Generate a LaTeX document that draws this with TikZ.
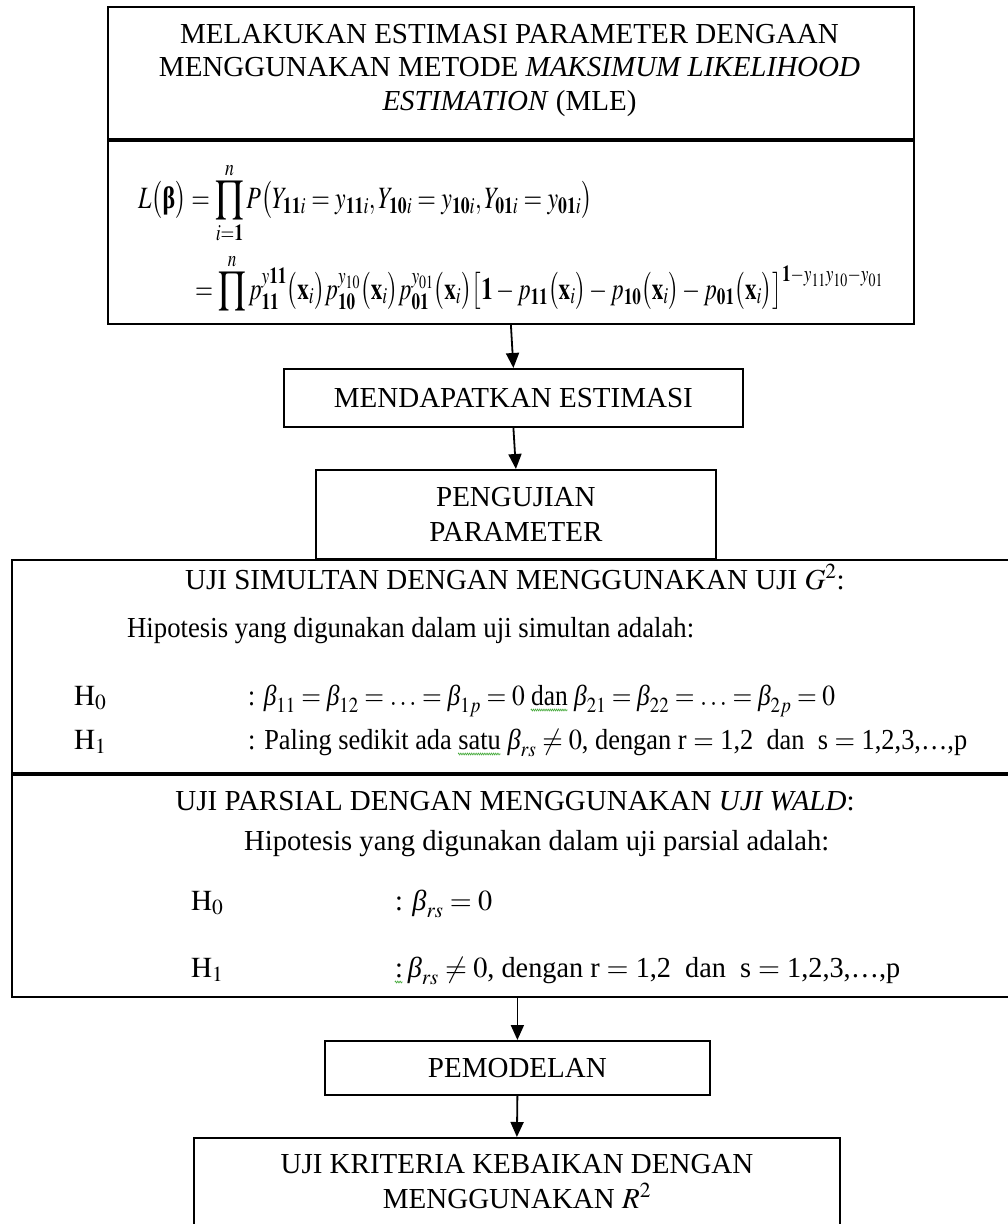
\documentclass[tikz,border=0pt]{standalone}
\usepackage{mathptmx}
\usepackage{fontspec}
\setmainfont{Liberation Serif}
\usepackage{graphicx}
\usetikzlibrary{arrows.meta,decorations.pathmorphing}
\definecolor{wavegreen}{RGB}{70,170,60}
\newcommand\fs{\fontsize{29}{34}\selectfont}
\newcommand\fsm{\fontsize{31}{36}\selectfont}
\newcommand\bt{\mbox{\itshape β}}
\newcommand\bbeta{\mbox{\bfseries β}}
\newsavebox\wavebox
\newcommand\gwave[1]{\savebox\wavebox{#1}\usebox\wavebox\llap{\tikz[baseline=0pt]\draw[wavegreen,line width=0.7pt,decorate,decoration={zigzag,amplitude=0.9pt,segment length=2.4pt}] (0pt,-5pt) -- (\wd\wavebox,-5pt);}}
\begin{document}
\begin{tikzpicture}[x=1pt,y=-1pt,
  box/.style={draw, line width=1.8pt, inner sep=0pt, anchor=north west},
  txt/.style={inner sep=0pt, font=\fs},
  mtxt/.style={inner sep=0pt, font=\fsm},
  arr/.style={line width=1.8pt, -{Triangle[length=15pt,width=13pt]}},
  divider/.style={line width=3.6pt}]
\useasboundingbox (0,0) rectangle (1008,1224);
\clip (0,0) rectangle (1008,1224);
% top box
\node[box, minimum width=806pt, minimum height=132pt] (mlehead) at (107,6) {};
\node[box, minimum width=806pt, minimum height=185pt] (mlebody) at (107,138) {};
\draw[divider] (mlehead.south west) -- (mlehead.south east);
\node[txt, anchor=base] (t1) at (509.5,43) {MELAKUKAN ESTIMASI PARAMETER DENGAAN};
\node[txt, anchor=base] (t2) at (509.5,76.5) {MENGGUNAKAN METODE \textit{MAKSIMUM LIKELIHOOD}};
\node[txt, anchor=base] (t3) at (509.5,110) {\textit{ESTIMATION} (MLE)};
\node[mtxt, anchor=base west] (f1) at (138,208) {\resizebox{454pt}{\height}{$\displaystyle L\bigl(\bbeta\bigr) = \prod_{i=\mathbf{1}}^{n} P\bigl(Y_{\mathbf{11}i} = y_{\mathbf{11}i}, Y_{\mathbf{10}i} = y_{\mathbf{10}i}, Y_{\mathbf{01}i} = y_{\mathbf{01}i}\bigr)$}};
\node[mtxt, anchor=base west] (f2) at (195,299) {\resizebox{688pt}{\height}{$\displaystyle = \prod^{n} p_{\mathbf{11}}^{y\mathbf{11}}\bigl(\mathbf{x}_i\bigr)p_{\mathbf{10}}^{y_{10}}\bigl(\mathbf{x}_i\bigr)p_{\mathbf{01}}^{y_{01}}\bigl(\mathbf{x}_i\bigr)\bigl[\mathbf{1} - p_{\mathbf{11}}\bigl(\mathbf{x}_i\bigr) - p_{\mathbf{10}}\bigl(\mathbf{x}_i\bigr) - p_{\mathbf{01}}\bigl(\mathbf{x}_i\bigr)\bigr]^{\mathbf{1}-y_{11}y_{10}-y_{01}}$}};
% middle boxes
\node[box, minimum width=459pt, minimum height=58pt, font=\fs] (mend) at (283,368) {MENDAPATKAN ESTIMASI};
\node[box, minimum width=400pt, minimum height=89pt, font=\fs, align=center] (peng) at (315,469) {PENGUJIAN\\[1pt]PARAMETER};
% big box
\node[box, minimum width=1010pt, minimum height=213pt] (sim) at (11,559) {};
\node[box, minimum width=1010pt, minimum height=224pt] (par) at (11,772) {};
\draw[divider] (sim.south west) -- (sim.south east);
\node[txt, anchor=base] (st) at (515,589) {UJI SIMULTAN DENGAN MENGGUNAKAN UJI $G^2$:};
\node[txt, anchor=base west] (sh) at (127,637) {\resizebox{567pt}{\height}{Hipotesis yang digunakan dalam uji simultan adalah:}};
\node[txt, anchor=base west] (sh0) at (74,705) {$\mathrm{H}_0$};
\node[txt, anchor=base west] (sh1) at (74,749) {$\mathrm{H}_1$};
\node[txt, anchor=base west] (se0) at (248,705) {\resizebox{587pt}{\height}{: $\bt_{11} = \bt_{12} = \ldots = \bt_{1p} = 0$ \gwave{dan} $\bt_{21} = \bt_{22} = \ldots = \bt_{2p} = 0$}};
\node[txt, anchor=base west] (se1) at (248,749) {\resizebox{719pt}{\height}{: Paling sedikit ada \gwave{satu} $\bt_{rs} \neq 0$, dengan r $=$ 1,2 \ dan \ s $=$ 1,2,3,\ldots,p}};
\node[txt, anchor=base] (pt) at (515,810) {UJI PARSIAL DENGAN MENGGUNAKAN \textit{UJI WALD}:};
\node[txt, anchor=base west] (ph) at (244,850) {\resizebox{585pt}{\height}{Hipotesis yang digunakan dalam uji parsial adalah:}};
\node[txt, anchor=base west] (ph0) at (191,910) {$\mathrm{H}_0$};
\node[txt, anchor=base west] (ph1) at (191,977) {$\mathrm{H}_1$};
\node[txt, anchor=base west] (pe0) at (395,910) {\resizebox{97pt}{\height}{: $\bt_{rs} = 0$}};
\node[txt, anchor=base west] (pe1) at (395,977) {\resizebox{505pt}{\height}{\gwave{:}\,$\bt_{rs} \neq 0$, dengan r $=$ 1,2 \ dan \ s $=$ 1,2,3,\ldots,p}};
% bottom boxes
\node[box, minimum width=385pt, minimum height=54pt, font=\fs] (pem) at (324,1040) {PEMODELAN};
\node[box, minimum width=646pt, minimum height=120pt] (fin) at (193,1137) {};
\node[txt, anchor=base] (fa) at (517,1173) {UJI KRITERIA KEBAIKAN DENGAN};
\node[txt, anchor=base] (fb) at (517,1208) {MENGGUNAKAN $R^2$};
% arrows
\draw[arr] (mlebody.south) -- (mend.north);
\draw[arr] (mend.south) -- (peng.north);
\draw[arr] (pem.north |- par.south) -- (pem.north);
\draw[arr] (pem.south) -- (fin.north);
\end{tikzpicture}
\end{document}
